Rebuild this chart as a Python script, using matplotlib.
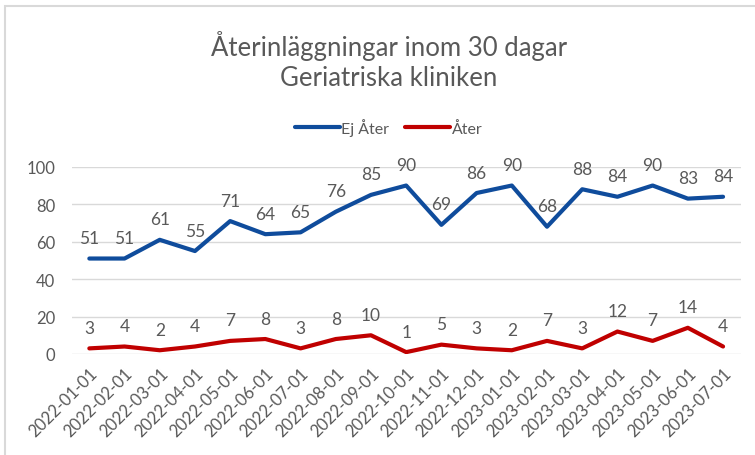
import numpy as np
import matplotlib.pyplot as plt
from matplotlib.patches import Rectangle

plt.rcParams['font.family'] = ['Lato', 'DejaVu Sans']

dates = ['2022-01-01', '2022-02-01', '2022-03-01', '2022-04-01', '2022-05-01',
         '2022-06-01', '2022-07-01', '2022-08-01', '2022-09-01', '2022-10-01',
         '2022-11-01', '2022-12-01', '2023-01-01', '2023-02-01', '2023-03-01',
         '2023-04-01', '2023-05-01', '2023-06-01', '2023-07-01']
ej_ater = [51, 51, 61, 55, 71, 64, 65, 76, 85, 90, 69, 86, 90, 68, 88, 84, 90, 83, 84]
ater = [3, 4, 2, 4, 7, 8, 3, 8, 10, 1, 5, 3, 2, 7, 3, 12, 7, 14, 4]

grey = '#595959'
blue = '#0F4C9C'
red = '#C00000'

fig = plt.figure(figsize=(7.55, 4.56), dpi=100)
ax = fig.add_axes([0.095, 0.2215, 0.886, 0.4105])

# chart border
fig.patches.append(Rectangle((5 / 755, -0.1), 1.1, 1.085, transform=fig.transFigure,
                             fill=False, edgecolor='#D9D9D9', linewidth=1.5))

x = np.arange(len(dates))
ax.plot(x, ej_ater, color=blue, linewidth=3, label='Ej Åter', solid_capstyle='round')
ax.plot(x, ater, color=red, linewidth=3, label='Åter', solid_capstyle='round')

for xi, v in zip(x, ej_ater):
    ax.annotate(str(v), (xi, v), xytext=(0, 9), textcoords='offset points',
                ha='center', va='bottom', fontsize=12.5, color=grey)
for xi, v in zip(x, ater):
    ax.annotate(str(v), (xi, v), xytext=(0, 9), textcoords='offset points',
                ha='center', va='bottom', fontsize=12.5, color=grey)

ax.set_xlim(-0.5, len(dates) - 0.5)
ax.set_ylim(0, 100)
ax.set_yticks(range(0, 101, 20))
ax.set_xticks(x)
ax.set_xticklabels(dates, rotation=45, ha='right', rotation_mode='anchor')
ax.tick_params(axis='both', length=0, labelsize=12, labelcolor=grey)
ax.tick_params(axis='y', pad=12)
ax.tick_params(axis='x', pad=8)
ax.grid(axis='y', color='#D9D9D9', linewidth=1)
ax.set_axisbelow(True)
for s in ax.spines.values():
    s.set_visible(False)

fig.text(0.515, 0.9, 'Återinläggningar inom 30 dagar', ha='center', va='center',
         fontsize=18.5, color=grey)
fig.text(0.515, 0.828, 'Geriatriska kliniken', ha='center', va='center',
         fontsize=18.5, color=grey)

fig.legend(loc='center', bbox_to_anchor=(0.515, 0.72), ncol=2, frameon=False,
           fontsize=11.5, labelcolor=grey, handlelength=2.8, handletextpad=0.1,
           columnspacing=1.0)

fig.savefig('out.png', dpi=100)
